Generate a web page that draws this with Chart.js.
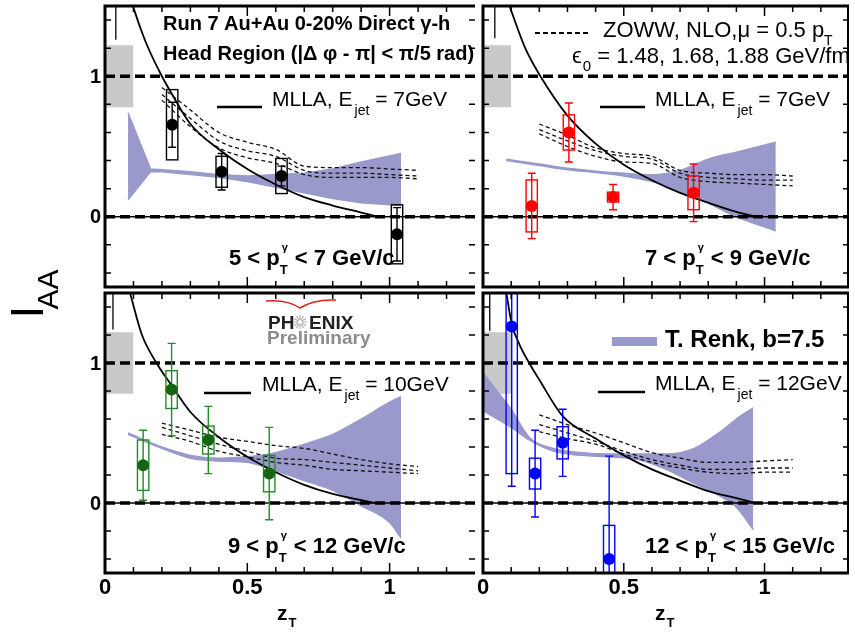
<!DOCTYPE html>
<html><head><meta charset="utf-8">
<script src="https://cdn.jsdelivr.net/npm/chart.js@4.4.1/dist/chart.umd.min.js"></script>
<style>
html,body{margin:0;padding:0;background:#fff;}
#wrap{position:relative;width:855px;height:633px;overflow:hidden;background:#fff;}
canvas{position:absolute;left:0;top:0;}
</style></head><body>
<div id="wrap">
<canvas id="c0" width="855" height="633"></canvas>
<canvas id="c1" width="855" height="633"></canvas>
<canvas id="c2" width="855" height="633"></canvas>
<canvas id="c3" width="855" height="633"></canvas>
</div>
<script>
// ---------------- axes / tick labels ----------------
const xRange = [0, 1.3];
const yRange = [-0.5, 1.5];
const xTickVals = [0, 0.5, 1];
const xTickLabels = ['0', '0.5', '1'];
const yTickVals = [0, 1];
const yTickLabels = ['0', '1'];
const xTitle = 'z';
const xTitleSub = 'T';
const yTitle = 'I';
const yTitleSub = 'AA';

// ---------------- common reference elements ----------------
const normBoxX = [0, 0.1];
const normBoxY = [0.78, 1.22];
const refLevels = [1, 0];
const zowwX = [0.2, 0.3, 0.4, 0.5, 0.6, 0.7, 0.8, 0.9, 1.0, 1.1];
const stubX = [0.038, 0.042, 0.028, 0.024];
const stubLo = [1.26, 1.27, 1.24, 1.23];

// ---------------- text ----------------
const title1 = 'Run 7 Au+Au 0-20% Direct \u03b3-h';
const title2 = 'Head Region (|\u0394 \u03c6 - \u03c0| < \u03c0/5 rad)';
const zowwLabel = 'ZOWW, NLO,\u03bc = 0.5 p';
const eps0 = [1.48, 1.68, 1.88];
const renkLabel = 'T. Renk, b=7.5';
const mllaEjet = ['7GeV', '7GeV', '10GeV', '12GeV'];
const ptLo = ['5', '7', '9', '12'];
const ptHi = ['7', '9', '12', '15'];

// ---------------- panel 1 : 5 < pT < 7 ----------------
const p1X = [0.236, 0.41, 0.62, 1.026];
const p1Y = [0.655, 0.32, 0.29, -0.125];
const p1Stat = [0.16, 0.13, 0.07, 0.19];
const p1Sys = [0.25, 0.11, 0.125, 0.21];
const p1MllaX = [0.098, 0.125, 0.15, 0.2, 0.236, 0.3, 0.4, 0.5, 0.6, 0.7, 0.8, 0.9, 0.96];
const p1MllaY = [1.5, 1.34, 1.21, 1.0, 0.87, 0.66, 0.48, 0.34, 0.23, 0.14, 0.08, 0.03, 0.0];
const p1RenkX = [0.081, 0.16, 0.2, 0.3, 0.4, 0.5, 0.6, 0.7, 0.8, 0.9, 1.04];
const p1RenkHi = [0.74, 0.34, 0.335, 0.32, 0.30, 0.29, 0.30, 0.31, 0.34, 0.39, 0.45];
const p1RenkLo = [0.12, 0.32, 0.32, 0.30, 0.28, 0.25, 0.21, 0.17, 0.13, 0.10, 0.08];
const p1ZowwA = [0.92, 0.76, 0.60, 0.53, 0.48, 0.36, 0.35, 0.35, 0.34, 0.33];
const p1ZowwB = [0.87, 0.70, 0.54, 0.47, 0.43, 0.33, 0.31, 0.31, 0.30, 0.29];
const p1ZowwC = [0.83, 0.64, 0.49, 0.42, 0.38, 0.30, 0.28, 0.28, 0.28, 0.27];

// ---------------- panel 2 : 7 < pT < 9 ----------------
const p2X = [0.173, 0.305, 0.462, 0.748];
const p2Y = [0.077, 0.60, 0.14, 0.17];
const p2Stat = [0.233, 0.21, 0.09, 0.205];
const p2Sys = [0.185, 0.125, 0.035, 0.12];
const p2MllaX = [0.094, 0.15, 0.204, 0.3, 0.4, 0.5, 0.6, 0.7, 0.8, 0.9, 0.97];
const p2MllaY = [1.5, 1.2, 1.0, 0.72, 0.52, 0.37, 0.26, 0.17, 0.10, 0.035, 0.0];
const p2RenkX = [0.083, 0.2, 0.3, 0.4, 0.5, 0.6, 0.7, 0.8, 0.9, 1.04];
const p2RenkHi = [0.41, 0.375, 0.345, 0.325, 0.31, 0.30, 0.33, 0.41, 0.46, 0.53];
const p2RenkLo = [0.40, 0.365, 0.335, 0.315, 0.29, 0.25, 0.18, 0.095, 0.0, -0.10];
const p2ZowwA = [0.66, 0.58, 0.49, 0.45, 0.43, 0.33, 0.31, 0.30, 0.30, 0.29];
const p2ZowwB = [0.62, 0.54, 0.47, 0.43, 0.41, 0.31, 0.28, 0.27, 0.26, 0.26];
const p2ZowwC = [0.59, 0.50, 0.43, 0.39, 0.38, 0.28, 0.25, 0.24, 0.23, 0.22];

// ---------------- panel 3 : 9 < pT < 12 ----------------
const p3X = [0.134, 0.234, 0.363, 0.577];
const p3Y = [0.27, 0.81, 0.45, 0.21];
const p3Stat = [0.25, 0.33, 0.24, 0.33];
const p3Sys = [0.18, 0.135, 0.10, 0.13];
const p3MllaX = [0.088, 0.13, 0.181, 0.234, 0.3, 0.4, 0.5, 0.6, 0.7, 0.8, 0.9, 0.95];
const p3MllaY = [1.5, 1.2, 1.0, 0.84, 0.65, 0.47, 0.33, 0.22, 0.13, 0.065, 0.02, 0.0];
const p3RenkX = [0.081, 0.2, 0.3, 0.4, 0.5, 0.6, 0.7, 0.8, 0.9, 1.0, 1.04];
const p3RenkHi = [0.50, 0.40, 0.34, 0.32, 0.33, 0.36, 0.42, 0.49, 0.60, 0.72, 0.76];
const p3RenkLo = [0.49, 0.39, 0.32, 0.30, 0.29, 0.23, 0.16, 0.09, -0.02, -0.14, -0.25];
const p3ZowwA = [0.57, 0.52, 0.47, 0.44, 0.41, 0.39, 0.35, 0.31, 0.28, 0.26];
const p3ZowwB = [0.54, 0.48, 0.42, 0.37, 0.32, 0.31, 0.29, 0.27, 0.25, 0.23];
const p3ZowwC = [0.49, 0.44, 0.37, 0.33, 0.29, 0.27, 0.24, 0.23, 0.22, 0.21];

// ---------------- panel 4 : 12 < pT < 15 ----------------
const p4X = [0.102, 0.185, 0.283, 0.448];
const p4Y = [1.26, 0.21, 0.43, -0.40];
const p4Stat = [1.14, 0.31, 0.24, 0.735];
const p4Sys = [1.05, 0.11, 0.115, 0.24];
const p4MllaX = [0.083, 0.102, 0.13, 0.164, 0.2, 0.283, 0.4, 0.5, 0.6, 0.7, 0.8, 0.9, 0.97];
const p4MllaY = [1.5, 1.28, 1.13, 1.0, 0.88, 0.62, 0.46, 0.34, 0.24, 0.16, 0.085, 0.035, 0.0];
const p4RenkX = [0.0, 0.05, 0.1, 0.164, 0.25, 0.35, 0.45, 0.55, 0.65, 0.75, 0.85, 0.9, 0.96];
const p4RenkHi = [0.93, 0.80, 0.67, 0.47, 0.39, 0.36, 0.35, 0.35, 0.35, 0.39, 0.52, 0.60, 0.68];
const p4RenkLo = [0.66, 0.60, 0.54, 0.45, 0.37, 0.34, 0.33, 0.31, 0.24, 0.14, 0.04, -0.03, -0.19];
const p4ZowwA = [0.63, 0.56, 0.50, 0.43, 0.36, 0.32, 0.29, 0.29, 0.30, 0.31];
const p4ZowwB = [0.56, 0.50, 0.44, 0.37, 0.31, 0.27, 0.24, 0.24, 0.25, 0.25];
const p4ZowwC = [0.51, 0.46, 0.42, 0.35, 0.29, 0.25, 0.22, 0.21, 0.22, 0.22];

// ---------------- styling ----------------
const FONT = '"Liberation Sans", Arial, "DejaVu Sans", sans-serif';
const BAND = 'rgb(153,153,204)';
const BOXHW = 0.02;

const panels = [
  {idx:0, id:'c0', area:{l:105,t:3,r:475,b:287}, bar:'#000', mark:'#000', x:p1X, y:p1Y, stat:p1Stat, sys:p1Sys,
   mx:p1MllaX, my:p1MllaY, rx:p1RenkX, rh:p1RenkHi, rl:p1RenkLo, zw:[p1ZowwA,p1ZowwB,p1ZowwC], left:true, bottom:false, rb:false, smoothBand:false},
  {idx:1, id:'c1', area:{l:483,t:3,r:853,b:287}, bar:'#ff0000', mark:'#ff0000', x:p2X, y:p2Y, stat:p2Stat, sys:p2Sys,
   mx:p2MllaX, my:p2MllaY, rx:p2RenkX, rh:p2RenkHi, rl:p2RenkLo, zw:[p2ZowwA,p2ZowwB,p2ZowwC], left:false, bottom:false, rb:true, smoothBand:true},
  {idx:2, id:'c2', area:{l:105,t:293,r:475,b:573}, bar:'#268a26', mark:'#156515', x:p3X, y:p3Y, stat:p3Stat, sys:p3Sys,
   mx:p3MllaX, my:p3MllaY, rx:p3RenkX, rh:p3RenkHi, rl:p3RenkLo, zw:[p3ZowwA,p3ZowwB,p3ZowwC], left:true, bottom:true, rb:false, smoothBand:true},
  {idx:3, id:'c3', area:{l:483,t:293,r:853,b:573}, bar:'#0000ff', mark:'#0000ff', x:p4X, y:p4Y, stat:p4Stat, sys:p4Sys,
   mx:p4MllaX, my:p4MllaY, rx:p4RenkX, rh:p4RenkHi, rl:p4RenkLo, zw:[p4ZowwA,p4ZowwB,p4ZowwC], left:false, bottom:true, rb:true, smoothBand:true}
];

function rich(ctx, x, y, parts, color) {
  let cx = x;
  ctx.fillStyle = color || '#000';
  ctx.textAlign = 'left';
  ctx.textBaseline = 'alphabetic';
  for (const p of parts) {
    if (p.sup !== undefined) {
      ctx.font = (p.bold ? 'bold ' : '') + p.supSize + 'px ' + FONT;
      const w1 = ctx.measureText(p.sup).width;
      ctx.fillText(p.sup, cx + (p.supDx || 0), y + p.supDy);
      ctx.font = (p.bold ? 'bold ' : '') + p.subSize + 'px ' + FONT;
      const w2 = ctx.measureText(p.sub).width;
      ctx.fillText(p.sub, cx, y + p.subDy);
      cx += Math.max(w1, w2) + (p.gap || 0);
    } else {
      ctx.font = (p.bold ? 'bold ' : '') + p.size + 'px ' + FONT;
      ctx.fillText(p.t, cx, y + (p.dy || 0));
      cx += ctx.measureText(p.t).width + (p.gap || 0);
    }
  }
  return cx;
}

function mllaLegend(ctx, lx0, lx1, ly, tx, ty, ej) {
  ctx.strokeStyle = '#000'; ctx.lineWidth = 2.5; ctx.setLineDash([]);
  ctx.beginPath(); ctx.moveTo(lx0, ly); ctx.lineTo(lx1, ly); ctx.stroke();
  rich(ctx, tx, ty, [{t:'MLLA, E', size:21, gap:2}, {t:'jet', size:14, dy:9}, {t:' = ' + ej, size:21}]);
}
function ptLegend(ctx, x, y, lo, hi) {
  rich(ctx, x, y, [{t: lo + ' < p', size:22, bold:true},
    {sup:'\u03b3', sub:'T', supSize:11, subSize:13, supDy:-14, subDy:9, supDx:2, bold:true, gap:1},
    {t:' < ' + hi + ' GeV/c', size:22, bold:true}]);
}

function panelTexts(ctx, P) {
  if (P.idx === 0) {
    rich(ctx, 163, 30, [{t:title1, size:20, bold:true}]);
    rich(ctx, 163, 60, [{t:title2, size:20, bold:true}]);
    mllaLegend(ctx, 217, 262, 107, 272, 106, mllaEjet[0]);
    ptLegend(ctx, 229, 265, ptLo[0], ptHi[0]);
  } else if (P.idx === 1) {
    ctx.strokeStyle = '#000'; ctx.lineWidth = 2; ctx.setLineDash([5, 3]);
    ctx.beginPath(); ctx.moveTo(535, 33); ctx.lineTo(591, 33); ctx.stroke(); ctx.setLineDash([]);
    rich(ctx, 603, 37, [{t:zowwLabel, size:22}, {t:'T', size:14, dy:8}]);
    rich(ctx, 572, 63, [{t:'\u03f5', size:22, gap:1}, {t:'0', size:15, dy:8}, {t:' = ' + eps0.map(v=>v.toFixed(2)).join(', ') + ' GeV/fm', size:22}]);
    mllaLegend(ctx, 600, 645, 107, 655, 106, mllaEjet[1]);
    ptLegend(ctx, 645, 265, ptLo[1], ptHi[1]);
  } else if (P.idx === 2) {
    // PHENIX Preliminary logo
    ctx.strokeStyle = '#e02020'; ctx.lineWidth = 1.5; ctx.setLineDash([]);
    ctx.beginPath(); ctx.moveTo(266, 301); ctx.quadraticCurveTo(287, 299, 300, 308);
    ctx.quadraticCurveTo(314, 299, 336, 300); ctx.stroke();
    rich(ctx, 268, 329, [{t:'PH', size:19, bold:true}], '#222');
    ctx.strokeStyle = '#b0b0b0'; ctx.lineWidth = 1.2;
    ctx.beginPath();
    for (let k = 0; k < 12; k++) { const a = k * Math.PI / 6; ctx.moveTo(300 + 2*Math.cos(a), 322 + 2*Math.sin(a)); ctx.lineTo(300 + 7*Math.cos(a), 322 + 7*Math.sin(a)); }
    ctx.stroke();
    rich(ctx, 309, 329, [{t:'ENIX', size:19, bold:true}], '#222');
    rich(ctx, 267, 344, [{t:'Preliminary', size:19, bold:true}], '#8c8c8c');
    mllaLegend(ctx, 204, 251, 393, 262, 391, mllaEjet[2]);
    ptLegend(ctx, 228, 553, ptLo[2], ptHi[2]);
    // y title
    ctx.save(); ctx.translate(43, 318.5); ctx.rotate(-Math.PI/2);
    ctx.fillStyle = '#000'; ctx.textAlign = 'left'; ctx.textBaseline = 'alphabetic';
    ctx.font = '46px ' + FONT; ctx.fillText(yTitle, 0, 0);
    ctx.font = '30px ' + FONT; ctx.fillText(yTitleSub, 9, 15);
    ctx.restore();
  } else {
    ctx.fillStyle = BAND; ctx.fillRect(612, 337, 45, 9);
    rich(ctx, 665, 347, [{t:renkLabel, size:24, bold:true}]);
    mllaLegend(ctx, 598, 645, 392, 655, 390, mllaEjet[3]);
    ptLegend(ctx, 645, 553, ptLo[3], ptHi[3]);
  }
}

function panelPlugin(P) {
  return {
    id: 'panel' + P.idx,
    beforeDatasetDraw(chart, args) {
      const d = chart.data.datasets[args.index];
      if (d.label !== 'data') return;
      const ctx = chart.ctx, xs = chart.scales.x, ys = chart.scales.y, ca = chart.chartArea;
      ctx.save();
      ctx.beginPath(); ctx.rect(ca.left, ca.top, ca.right - ca.left, ca.bottom - ca.top); ctx.clip();
      ctx.strokeStyle = P.bar; ctx.lineWidth = 1.4; ctx.setLineDash([]);
      P.x.forEach((x, i) => {
        const X = xs.getPixelForValue(x);
        const xl = xs.getPixelForValue(x - BOXHW), xr = xs.getPixelForValue(x + BOXHW);
        const yt = ys.getPixelForValue(P.y[i] + P.sys[i]), yb = ys.getPixelForValue(P.y[i] - P.sys[i]);
        ctx.strokeRect(xl, yt, xr - xl, yb - yt);
        const st = ys.getPixelForValue(P.y[i] + P.stat[i]), sb = ys.getPixelForValue(P.y[i] - P.stat[i]);
        ctx.beginPath();
        ctx.moveTo(X, st); ctx.lineTo(X, sb);
        ctx.moveTo(X - 4, st); ctx.lineTo(X + 4, st);
        ctx.moveTo(X - 4, sb); ctx.lineTo(X + 4, sb);
        ctx.stroke();
      });
      ctx.restore();
    },
    afterDraw(chart) {
      const ctx = chart.ctx, xs = chart.scales.x, ys = chart.scales.y, ca = chart.chartArea;
      ctx.save();
      ctx.setLineDash([]);
      ctx.strokeStyle = '#000';
      ctx.lineWidth = 1.5;
      ctx.beginPath();
      for (let k = -2; k <= 7; k++) {
        const Y = ys.getPixelForValue(k * 0.2);
        ctx.moveTo(ca.left, Y); ctx.lineTo(ca.left + 6, Y);
        ctx.moveTo(ca.right - 6, Y); ctx.lineTo(ca.right, Y);
      }
      for (let k = 1; k <= 12; k++) {
        const X = xs.getPixelForValue(k / 10);
        const len = (k % 5 === 0) ? 10 : 6;
        ctx.moveTo(X, ca.bottom); ctx.lineTo(X, ca.bottom - len);
        ctx.moveTo(X, ca.top); ctx.lineTo(X, ca.top + len);
      }
      ctx.stroke();
      ctx.lineWidth = 3;
      ctx.beginPath();
      ctx.moveTo(ca.right, ca.top); ctx.lineTo(ca.left, ca.top); ctx.lineTo(ca.left, ca.bottom); ctx.lineTo(ca.right, ca.bottom);
      ctx.stroke();
      if (P.rb) {
        ctx.lineWidth = 2;
        ctx.beginPath(); ctx.moveTo(ca.right - 1, ca.top); ctx.lineTo(ca.right - 1, ca.bottom); ctx.stroke();
      }
      ctx.fillStyle = '#000';
      if (P.left) {
        ctx.font = 'bold 20px ' + FONT; ctx.textAlign = 'right'; ctx.textBaseline = 'middle';
        yTickVals.forEach((v, i) => ctx.fillText(yTickLabels[i], ca.left - 4, ys.getPixelForValue(v) + 1));
      }
      if (P.bottom) {
        ctx.font = 'bold 22px ' + FONT; ctx.textAlign = 'center'; ctx.textBaseline = 'alphabetic';
        xTickVals.forEach((v, i) => ctx.fillText(xTickLabels[i], xs.getPixelForValue(v), 594));
        const zx = ca.left + 172;
        rich(ctx, zx, 620, [{t:xTitle, size:21, bold:true, gap:1}, {t:xTitleSub, size:13, bold:true, dy:7}]);
      }
      panelTexts(ctx, P);
      ctx.restore();
    }
  };
}

function line(xs, ys) { return xs.map((x, i) => ({x: x, y: ys[i]})); }

panels.forEach(P => {
  const ds = [];
  const bandInterp = P.smoothBand ? {cubicInterpolationMode:'monotone'} : {tension:0};
  ds.push({label:'norm', data: line(normBoxX, [normBoxY[1], normBoxY[1]]), fill:{value: normBoxY[0]},
    backgroundColor:'#c9c9c9', borderWidth:0, pointRadius:0, order:30});
  ds.push(Object.assign({label:'renkLo', data: line(P.rx, P.rl), borderColor:BAND, borderWidth:1.4, pointRadius:0, fill:false,
    order:29}, bandInterp));
  ds.push(Object.assign({label:'renkHi', data: line(P.rx, P.rh), borderColor:BAND, borderWidth:1.4, pointRadius:0, fill:'-1',
    backgroundColor:BAND, order:28}, bandInterp));
  P.zw.forEach((arr, j) => ds.push({label:'zoww' + j, data: line(zowwX, arr), borderColor:'#111', borderWidth:1.3,
    borderDash:[4, 3], pointRadius:0, fill:false, cubicInterpolationMode:'monotone', order:20 + j}));
  ds.push({label:'mlla', data: line(P.mx, P.my), borderColor:'#000', borderWidth:1.8, pointRadius:0, fill:false,
    cubicInterpolationMode:'monotone', order:15});
  refLevels.forEach((lv, j) => ds.push({label:'ref' + j, data: line(xRange, [lv, lv]), borderColor:'#000', borderWidth:3.5,
    borderDash:[10, 5], pointRadius:0, fill:false, order:10}));
  ds.push({label:'zero', data: line(xRange, [0, 0]), borderColor:'#000', borderWidth:1.5, pointRadius:0, fill:false, order:11});
  ds.push({label:'stub', data: line([stubX[P.idx], stubX[P.idx]], [stubLo[P.idx], yRange[1]]), borderColor:'#000',
    borderWidth:1.3, pointRadius:0, fill:false, order:9});
  ds.push({label:'data', data: line(P.x, P.y), showLine:false, pointRadius:6, pointBackgroundColor:P.mark,
    pointBorderColor:P.mark, pointBorderWidth:0, order:1});

  new Chart(document.getElementById(P.id), {
    type: 'line',
    data: {datasets: ds},
    options: {
      responsive:false, animation:false, devicePixelRatio:1, events:[],
      layout:{padding:{left:P.area.l, top:P.area.t, right:855 - P.area.r, bottom:633 - P.area.b}},
      scales:{
        x:{type:'linear', min:xRange[0], max:xRange[1], display:false},
        y:{type:'linear', min:yRange[0], max:yRange[1], display:false}
      },
      plugins:{legend:{display:false}, tooltip:{enabled:false}, title:{display:false}}
    },
    plugins:[panelPlugin(P)]
  });
});
</script>
</body></html>
